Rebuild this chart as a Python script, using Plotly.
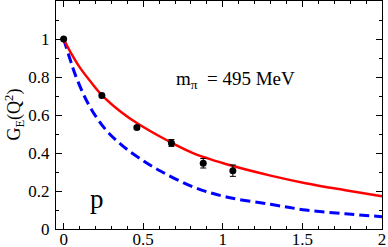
import plotly.graph_objects as go

# data points (lattice)
q2_data = [0.0, 0.24, 0.46, 0.677, 0.877, 1.063]
ge_data = [1.0, 0.703, 0.534, 0.453, 0.346, 0.307]
ge_err = [0.0, 0.008, 0.01, 0.018, 0.025, 0.03]

# red solid curve (fit)
q2_fit = [0.0, 0.05, 0.1, 0.17, 0.24, 0.367, 0.46, 0.64, 0.82, 1.07, 1.3, 1.52, 1.77, 2.0]
ge_fit = [1.0, 0.92, 0.852, 0.775, 0.705, 0.612, 0.558, 0.471, 0.397, 0.33, 0.281, 0.241, 0.204, 0.172]

# blue dashed curve (experiment)
q2_exp = [0.0, 0.042, 0.074, 0.157, 0.262, 0.367, 0.472, 0.608, 0.818, 1.03, 1.30, 1.52, 1.77, 2.0]
ge_exp = [1.0, 0.889, 0.81, 0.655, 0.525, 0.44, 0.375, 0.305, 0.22, 0.167, 0.13, 0.10, 0.08, 0.065]

x_ticks = [0, 0.5, 1, 1.5, 2]
x_tick_labels = ["0", "0.5", "1", "1.5", "2"]
y_ticks = [0, 0.2, 0.4, 0.6, 0.8, 1]
y_tick_labels = ["0", "0.2", "0.4", "0.6", "0.8", "1"]

FONT = "Liberation Serif, Times New Roman, serif"

fig = go.Figure()
fig.add_trace(go.Scatter(x=q2_exp, y=ge_exp, mode="lines", line_shape="spline",
                         line=dict(color="#0000ff", width=3, dash="10px,5px")))
fig.add_trace(go.Scatter(x=q2_fit, y=ge_fit, mode="lines", line_shape="spline",
                         line=dict(color="#ff0000", width=2.5)))
fig.add_trace(go.Scatter(x=q2_data, y=ge_data, mode="markers",
                         marker=dict(color="black", size=7),
                         error_y=dict(type="data", array=ge_err, color="black",
                                      thickness=1, width=3)))

axis_common = dict(showline=True, linecolor="black", linewidth=1, mirror="ticks",
                   ticks="inside", ticklen=6, tickcolor="black", showgrid=False,
                   zeroline=False, automargin=False,
                   tickfont=dict(family=FONT, size=17, color="black"))

fig.update_xaxes(range=[-0.048, 2.0], tickvals=x_ticks, ticktext=x_tick_labels,
                 ticklabelstandoff=-5,
                 minor=dict(ticks="inside", ticklen=3, dtick=0.1, tick0=0, tickcolor="black"),
                 **axis_common)
fig.update_yaxes(range=[0, 1.2], tickvals=y_ticks, ticktext=y_tick_labels,
                 ticklabelstandoff=2,
                 minor=dict(ticks="inside", ticklen=3, dtick=0.1, tick0=0, tickcolor="black"),
                 **axis_common)

fig.add_annotation(xref="paper", yref="paper", x=-0.13, y=0.5, xanchor="center",
                   yanchor="middle", textangle=-90,
                   text="G<sub>E</sub>(Q<sup>2</sup>)", showarrow=False,
                   font=dict(family=FONT, size=18, color="black"))
fig.add_annotation(x=1.08, y=0.785, xanchor="center", yanchor="middle",
                   text="m<sub>π</sub>  = 495 MeV", showarrow=False,
                   font=dict(family=FONT, size=19, color="black"))
fig.add_annotation(x=0.21, y=0.16, xanchor="center", yanchor="middle",
                   text="p", showarrow=False,
                   font=dict(family=FONT, size=27, color="black"))

fig.update_layout(width=388, height=247, margin=dict(l=56, r=6, t=1, b=18),
                  font=dict(family=FONT, color="black"),
                  plot_bgcolor="white", paper_bgcolor="white", showlegend=False)

fig.write_html("out.html", config={"displayModeBar": False},
               post_script="document.body.style.margin='0';")
